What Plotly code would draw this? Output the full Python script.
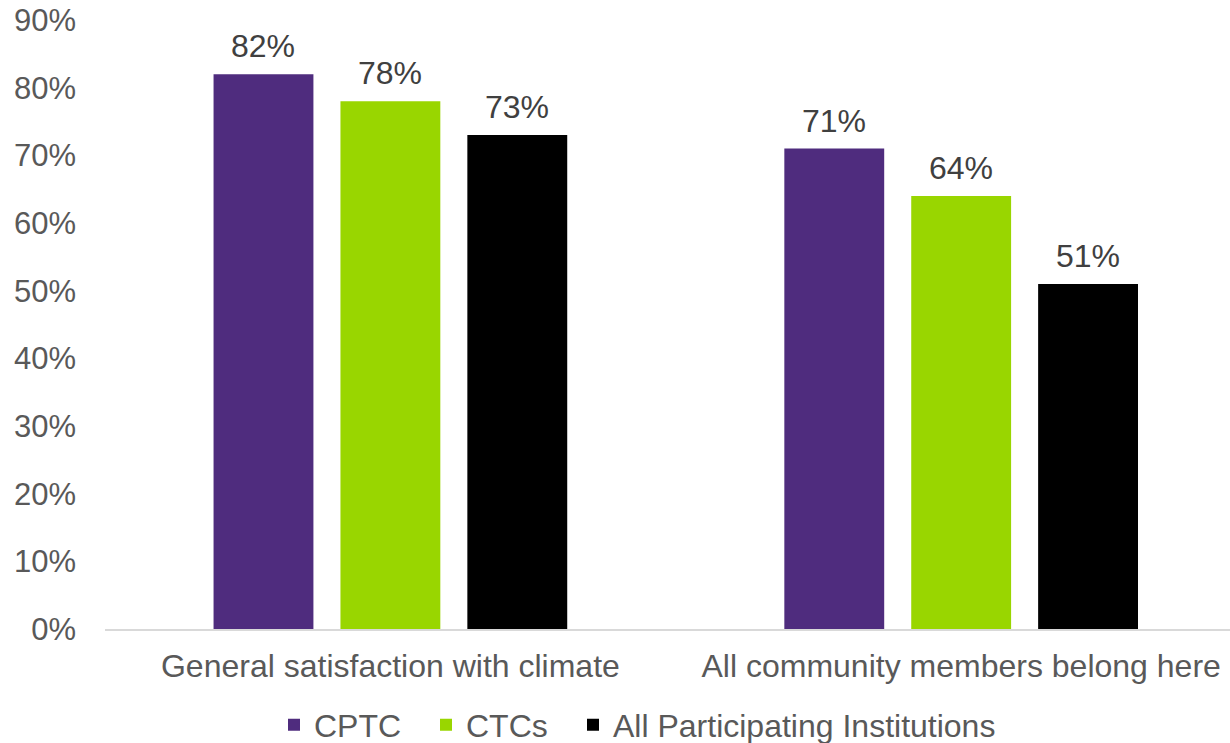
import plotly.graph_objects as go

categories = ["General satisfaction with climate", "All community members belong here"]
series_names = ["CPTC", "CTCs", "All Participating Institutions"]
cptc = [0.82, 0.71]
ctcs = [0.78, 0.64]
all_inst = [0.73, 0.51]
colors = ["#4F2C7E", "#99D600", "#000000"]
y_ticks = [0, 0.1, 0.2, 0.3, 0.4, 0.5, 0.6, 0.7, 0.8, 0.9]

FONT = "Liberation Sans, Arial"
fig = go.Figure()
offsets = [-127, 0, 127]
legend_ids = ["legend", "legend2", "legend3"]
legend_left_px = [274, 426, 573]
for name, vals, col, off, lid in zip(series_names, [cptc, ctcs, all_inst], colors, offsets, legend_ids):
    fig.add_trace(go.Bar(
        x=categories, y=vals, name=name, legend=lid,
        marker=dict(color=col, line=dict(width=0)),
    ))
    for c, v in zip(categories, vals):
        fig.add_annotation(x=c, y=v, xref="x", yref="y", text=f"{round(v*100)}%",
                           showarrow=False, xshift=off, yanchor="bottom", yshift=8,
                           font=dict(size=32, color="#404040", family=FONT))

legend_common = dict(orientation="h", xanchor="left",
                     yref="container", y=(743 - 725) / 743, yanchor="middle",
                     font=dict(size=32, color="#595959", family=FONT),
                     itemwidth=30, bgcolor="rgba(0,0,0,0)")

fig.update_layout(
    width=1230, height=743,
    margin=dict(l=105, r=0, t=20, b=114),
    paper_bgcolor="white", plot_bgcolor="white",
    barmode="group", bargap=0.333, bargroupgap=0.213,
    font=dict(family=FONT, size=32, color="#595959"),
    xaxis=dict(range=[-0.5, 1.471], showgrid=False, showline=True,
               linecolor="#D9D9D9", linewidth=2, ticks="",
               ticklabelstandoff=8,
               tickfont=dict(size=32, color="#595959")),
    yaxis=dict(range=[0, 0.9], tickvals=y_ticks, tickformat=".0%",
               showgrid=False, zeroline=False, showline=False,
               ticklabelstandoff=28,
               tickfont=dict(size=31, color="#595959")),
    legend=dict(x=(legend_left_px[0] - 105) / 1125, **legend_common),
    legend2=dict(x=(legend_left_px[1] - 105) / 1125, **legend_common),
    legend3=dict(x=(legend_left_px[2] - 105) / 1125, **legend_common),
    showlegend=True,
)

fig.write_html("out.html")
